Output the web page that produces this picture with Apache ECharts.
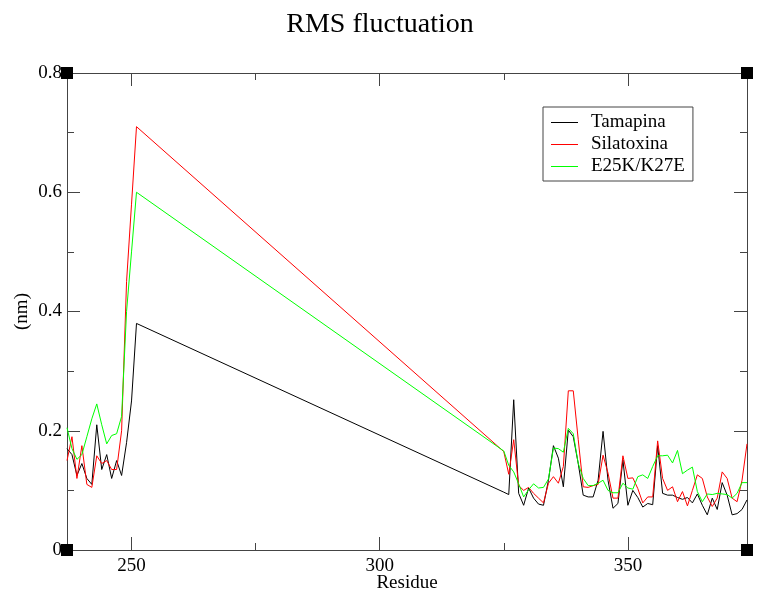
<!DOCTYPE html>
<html style="height: 100%">
<head>
    <meta charset="utf-8">
    <title>RMS fluctuation</title>
    <script src="https://cdn.jsdelivr.net/npm/echarts@6/dist/echarts.min.js"></script>
</head>
<body style="height: 100%; margin: 0; background: #fff">
    <div id="chart" style="width: 760px; height: 592px"></div>
    <script>
        // residue numbers (gap between 251 and 325)
        const residues = [
            237, 238, 239, 240, 241, 242, 243, 244, 245, 246, 247, 248, 249, 250, 251,
            325, 326, 327, 328, 329, 330, 331, 332, 333, 334, 335, 336, 337, 338, 339,
            340, 341, 342, 343, 344, 345, 346, 347, 348, 349, 350, 351, 352, 353, 354,
            355, 356, 357, 358, 359, 360, 361, 362, 363, 364, 365, 366, 367, 368, 369,
            370, 371, 372, 373, 374
        ];

        const tamapina = [
            0.17, 0.16, 0.125, 0.145, 0.12, 0.11, 0.21, 0.135, 0.16, 0.12, 0.15, 0.125, 0.18, 0.25, 0.38,
            0.097, 0.093, 0.252, 0.095, 0.075, 0.104, 0.087, 0.077, 0.075, 0.117, 0.175, 0.154, 0.106, 0.201, 0.19,
            0.145, 0.092, 0.089, 0.089, 0.117, 0.199, 0.117, 0.07, 0.078, 0.151, 0.075, 0.1, 0.088, 0.072, 0.078,
            0.076, 0.175, 0.095, 0.092, 0.092, 0.088, 0.085, 0.088, 0.079, 0.094, 0.075, 0.059, 0.087, 0.068, 0.113,
            0.092, 0.059, 0.061, 0.068, 0.084
        ];

        const silatoxina = [
            0.15, 0.19, 0.12, 0.175, 0.11, 0.105, 0.158, 0.145, 0.15, 0.135, 0.135, 0.2, 0.45, 0.58, 0.71,
            0.165, 0.127, 0.185, 0.108, 0.1, 0.105, 0.095, 0.087, 0.079, 0.112, 0.123, 0.112, 0.14, 0.267, 0.267,
            0.185, 0.106, 0.105, 0.108, 0.11, 0.159, 0.129, 0.087, 0.087, 0.158, 0.12, 0.121, 0.103, 0.079, 0.089,
            0.089, 0.183, 0.12, 0.1, 0.106, 0.081, 0.098, 0.074, 0.1, 0.126, 0.12, 0.089, 0.073, 0.087, 0.131,
            0.12, 0.087, 0.081, 0.117, 0.178
        ];

        const mutante = [
            0.205, 0.17, 0.152, 0.16, 0.19, 0.22, 0.245, 0.21, 0.178, 0.192, 0.195, 0.224, 0.4, 0.5, 0.6,
            0.166, 0.142, 0.131, 0.111, 0.089, 0.101, 0.111, 0.104, 0.105, 0.119, 0.171, 0.17, 0.164, 0.204, 0.195,
            0.145, 0.12, 0.108, 0.108, 0.112, 0.117, 0.1, 0.096, 0.096, 0.112, 0.104, 0.102, 0.123, 0.126, 0.12,
            0.14, 0.158, 0.158, 0.159, 0.146, 0.167, 0.128, 0.134, 0.139, 0.098, 0.081, 0.094, 0.093, 0.095, 0.094,
            0.093, 0.087, 0.095, 0.113, 0.113
        ];

        const seriesNames = ['Tamapina', 'Silatoxina', 'E25K/K27E'];
        const seriesColors = ['#000000', '#ff0000', '#00ff00'];
        const xMajorTicks = [250, 300, 350];
        const xMinorTicks = [275, 325];
        const xMin = 237, xMax = 374;
        const yMin = 0, yMax = 0.8;

        const font = '"Liberation Serif", "DejaVu Serif", serif';
        const axisColor = '#444';

        function pairs(values) {
            return residues.map((r, i) => [r, values[i]]);
        }

        function xAx(pos, ticks, len, showLine, showLabel, extra) {
            return Object.assign({
                type: 'value',
                position: pos,
                min: xMin,
                max: xMax,
                axisLine: { show: showLine, onZero: false, lineStyle: { color: axisColor, width: 1 } },
                axisTick: { show: true, inside: true, length: len, customValues: ticks, lineStyle: { color: axisColor } },
                axisLabel: showLabel ? {
                    customValues: ticks, fontFamily: font, fontSize: 19, color: '#000', margin: 7
                } : { show: false },
                splitLine: { show: false }
            }, extra || {});
        }

        function yAx(pos, showLabel, extra) {
            return Object.assign({
                type: 'value',
                position: pos,
                min: yMin,
                max: yMax,
                interval: 0.2,
                axisLine: { show: true, onZero: false, lineStyle: { color: axisColor, width: 1 } },
                axisTick: { show: true, inside: true, length: 13, lineStyle: { color: axisColor } },
                minorTick: { show: true, splitNumber: 2, length: 7, lineStyle: { color: axisColor } },
                axisLabel: showLabel ? { fontFamily: font, fontSize: 19, color: '#000', margin: 5 } : { show: false },
                splitLine: { show: false },
                minorSplitLine: { show: false }
            }, extra || {});
        }

        const option = {
            animation: false,
            backgroundColor: '#fff',
            title: {
                text: 'RMS fluctuation',
                left: 'center',
                top: 6,
                textStyle: { fontFamily: font, fontSize: 28, fontWeight: 'normal', color: '#000' }
            },
            grid: { left: 67, right: 13, top: 73, bottom: 42, outerBoundsMode: 'none' },
            legend: {
                data: seriesNames,
                orient: 'vertical',
                left: 543,
                top: 107,
                icon: 'rect',
                itemWidth: 27,
                itemHeight: 1,
                itemGap: 3,
                padding: [6, 8, 5, 8],
                borderColor: axisColor,
                borderWidth: 1,
                textStyle: { fontFamily: font, fontSize: 19, color: '#000', padding: [0, 0, 0, 8] }
            },
            xAxis: [
                xAx('bottom', xMajorTicks, 13, true, true, {
                    name: 'Residue',
                    nameLocation: 'middle',
                    nameGap: 24,
                    nameMoveOverlap: false,
                    nameTextStyle: { fontFamily: font, fontSize: 19, color: '#000' }
                }),
                xAx('bottom', xMinorTicks, 7, false, false),
                xAx('top', xMajorTicks, 13, true, false),
                xAx('top', xMinorTicks, 7, false, false)
            ],
            yAxis: [
                yAx('left', true, {
                    name: '(nm)',
                    nameLocation: 'middle',
                    nameGap: 35,
                    nameRotate: 90,
                    nameMoveOverlap: false,
                    nameTextStyle: { fontFamily: font, fontSize: 19, color: '#000' }
                }),
                yAx('right', false)
            ],
            series: [tamapina, silatoxina, mutante].map((vals, i) => ({
                name: seriesNames[i],
                type: 'line',
                xAxisIndex: 0,
                yAxisIndex: 0,
                data: pairs(vals),
                showSymbol: false,
                symbol: 'none',
                color: seriesColors[i],
                lineStyle: { width: 1, color: seriesColors[i] }
            }))
        };

        const chart = echarts.init(document.getElementById('chart'), null, { renderer: 'canvas' });
        chart.setOption(option);

        // black squares on the four plot corners
        const corners = [[xMin, yMin], [xMin, yMax], [xMax, yMin], [xMax, yMax]]
            .map(c => chart.convertToPixel({ gridIndex: 0 }, c));
        chart.setOption({
            graphic: corners.map(p => ({
                type: 'rect',
                z: 100,
                shape: { x: p[0] - 6, y: p[1] - 6, width: 12, height: 12 },
                style: { fill: '#000' }
            }))
        });
    </script>
</body>
</html>
